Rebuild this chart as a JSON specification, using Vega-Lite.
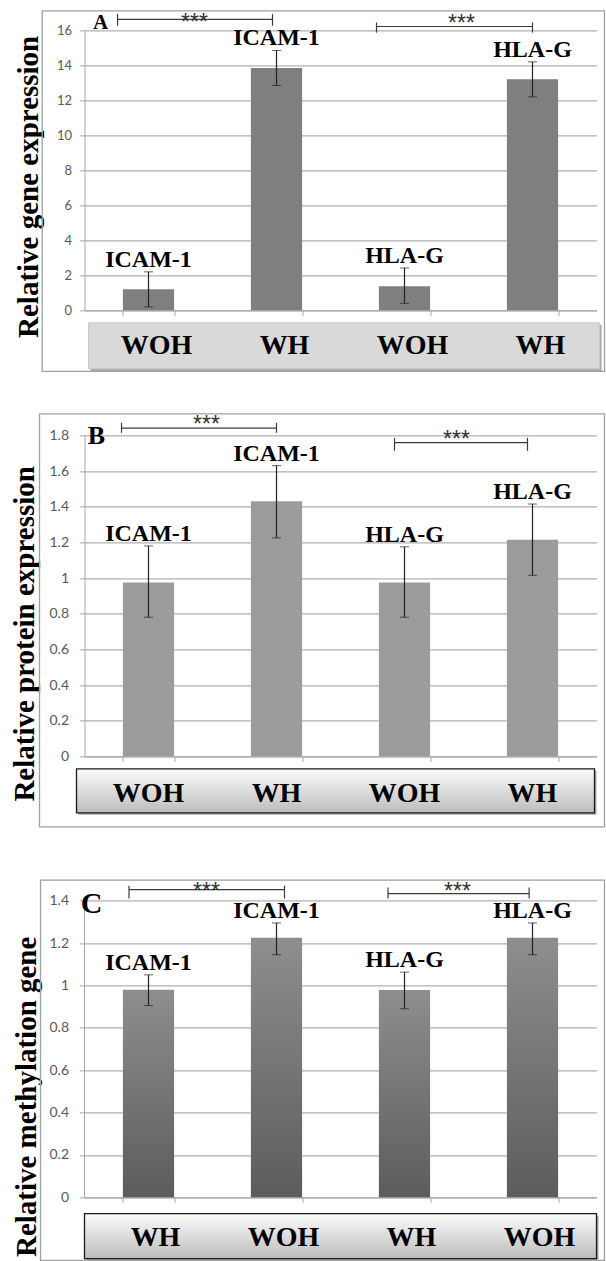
{
  "$schema": "https://vega.github.io/schema/vega-lite/v6.json",
  "padding": {"left": 9.5, "top": 9.35, "right": 0, "bottom": 0},
  "background": "white",
  "datasets": {
    "A": [
      {"bar": 1, "gene": "ICAM-1", "group": "WOH", "value": 1.2, "low": 0.2, "high": 2.2},
      {"bar": 2, "gene": "ICAM-1", "group": "WH", "value": 13.85, "low": 12.85, "high": 14.85},
      {"bar": 3, "gene": "HLA-G", "group": "WOH", "value": 1.38, "low": 0.4, "high": 2.42},
      {"bar": 4, "gene": "HLA-G", "group": "WH", "value": 13.2, "low": 12.2, "high": 14.2}
    ],
    "B": [
      {"bar": 1, "gene": "ICAM-1", "group": "WOH", "value": 0.975, "low": 0.78, "high": 1.18},
      {"bar": 2, "gene": "ICAM-1", "group": "WH", "value": 1.43, "low": 1.225, "high": 1.63},
      {"bar": 3, "gene": "HLA-G", "group": "WOH", "value": 0.975, "low": 0.78, "high": 1.175},
      {"bar": 4, "gene": "HLA-G", "group": "WH", "value": 1.215, "low": 1.015, "high": 1.415}
    ],
    "C": [
      {"bar": 1, "gene": "ICAM-1", "group": "WH", "value": 0.98, "low": 0.905, "high": 1.05},
      {"bar": 2, "gene": "ICAM-1", "group": "WOH", "value": 1.225, "low": 1.145, "high": 1.295},
      {"bar": 3, "gene": "HLA-G", "group": "WH", "value": 0.978, "low": 0.89, "high": 1.063},
      {"bar": 4, "gene": "HLA-G", "group": "WOH", "value": 1.225, "low": 1.145, "high": 1.295}
    ]
  },
  "vconcat": [
    {
      "width": 512,
      "height": 280,
      "layer": [
        {
          "data": {"values": [{"sig": "***"}]},
          "layer": [
            {"mark": {"type": "rect", "fillOpacity": 0, "stroke": "#a0a0a0", "strokeWidth": 1.3},
             "encoding": {"x": {"datum": -0.0826, "type": "quantitative", "scale": {"domain": [0, 1]}, "axis": null}, "x2": {"datum": 1.0156},
                          "y": {"datum": 17.114, "type": "quantitative", "scale": {"domain": [0, 16], "nice": false}, "axis": null}, "y2": {"datum": -3.486}}},
            {"mark": {"type": "rect", "fill": "#a8a8a8"},
             "encoding": {"x": {"datum": 0.0118, "type": "quantitative", "scale": {"domain": [0, 1]}, "axis": null}, "x2": {"datum": 1.0099},
                          "y": {"datum": -0.83, "type": "quantitative", "scale": {"domain": [0, 16], "nice": false}, "axis": null}, "y2": {"datum": -3.46}}},
            {"mark": {"type": "rect", "fill": "#d9d9d9", "stroke": "#c8c8c8", "strokeWidth": 1},
             "encoding": {"x": {"datum": 0.0078, "type": "quantitative", "scale": {"domain": [0, 1]}, "axis": null}, "x2": {"datum": 1.0059},
                          "y": {"datum": -0.714, "type": "quantitative", "scale": {"domain": [0, 16], "nice": false}, "axis": null}, "y2": {"datum": -3.343}}},
            {"mark": {"type": "rule", "color": "#3c3c3c", "strokeWidth": 1.2},
             "encoding": {"x": {"datum": 0.0645, "type": "quantitative", "scale": {"domain": [0, 1]}, "axis": null}, "x2": {"datum": 0.3672},
                          "y": {"datum": 16.63, "type": "quantitative", "scale": {"domain": [0, 16], "nice": false}, "axis": null}}},
            {"mark": {"type": "rule", "color": "#3c3c3c", "strokeWidth": 1.2},
             "encoding": {"x": {"datum": 0.0645, "type": "quantitative", "scale": {"domain": [0, 1]}, "axis": null},
                          "y": {"datum": 16.94, "type": "quantitative", "scale": {"domain": [0, 16], "nice": false}, "axis": null}, "y2": {"datum": 16.26}}},
            {"mark": {"type": "rule", "color": "#3c3c3c", "strokeWidth": 1.2},
             "encoding": {"x": {"datum": 0.3672, "type": "quantitative", "scale": {"domain": [0, 1]}, "axis": null},
                          "y": {"datum": 16.94, "type": "quantitative", "scale": {"domain": [0, 16], "nice": false}, "axis": null}, "y2": {"datum": 16.26}}},
            {"mark": {"type": "rule", "color": "#3c3c3c", "strokeWidth": 1.2},
             "encoding": {"x": {"datum": 0.5703, "type": "quantitative", "scale": {"domain": [0, 1]}, "axis": null}, "x2": {"datum": 0.875},
                          "y": {"datum": 16.22, "type": "quantitative", "scale": {"domain": [0, 16], "nice": false}, "axis": null}}},
            {"mark": {"type": "rule", "color": "#3c3c3c", "strokeWidth": 1.2},
             "encoding": {"x": {"datum": 0.5703, "type": "quantitative", "scale": {"domain": [0, 1]}, "axis": null},
                          "y": {"datum": 16.45, "type": "quantitative", "scale": {"domain": [0, 16], "nice": false}, "axis": null}, "y2": {"datum": 15.87}}},
            {"mark": {"type": "rule", "color": "#3c3c3c", "strokeWidth": 1.2},
             "encoding": {"x": {"datum": 0.875, "type": "quantitative", "scale": {"domain": [0, 1]}, "axis": null},
                          "y": {"datum": 16.45, "type": "quantitative", "scale": {"domain": [0, 16], "nice": false}, "axis": null}, "y2": {"datum": 15.87}}},
            {"mark": {"type": "text", "font": "Liberation Sans", "fontSize": 23, "baseline": "alphabetic", "color": "#333"},
             "encoding": {"x": {"datum": 0.2148, "type": "quantitative", "scale": {"domain": [0, 1]}, "axis": null},
                          "y": {"datum": 16.0, "type": "quantitative", "scale": {"domain": [0, 16], "nice": false}, "axis": null}, "text": {"field": "sig"}}},
            {"mark": {"type": "text", "font": "Liberation Sans", "fontSize": 23, "baseline": "alphabetic", "color": "#333"},
             "encoding": {"x": {"datum": 0.7363, "type": "quantitative", "scale": {"domain": [0, 1]}, "axis": null},
                          "y": {"datum": 15.943, "type": "quantitative", "scale": {"domain": [0, 16], "nice": false}, "axis": null}, "text": {"field": "sig"}}},
            {"mark": {"type": "text", "font": "Liberation Serif", "fontWeight": "bold", "fontSize": 21, "baseline": "alphabetic", "color": "#000", "text": "A"},
             "encoding": {"x": {"datum": 0.03125, "type": "quantitative", "scale": {"domain": [0, 1]}, "axis": null},
                          "y": {"datum": 16.09, "type": "quantitative", "scale": {"domain": [0, 16], "nice": false}, "axis": null}}}
          ]
        },
        {
          "data": {"name": "A"},
          "layer": [
            {"mark": {"type": "bar", "color": "#7f7f7f"},
             "encoding": {
               "x": {"field": "bar", "type": "ordinal", "title": null, "scale": {"paddingInner": 0.6, "paddingOuter": 0.3},
                     "axis": {"labels": false, "tickBand": "extent", "tickSize": 5, "grid": false}},
               "y": {"field": "value", "type": "quantitative", "scale": {"domain": [0, 16], "nice": false},
                     "axis": {"title": "Relative gene expression", "values": [0, 2, 4, 6, 8, 10, 12, 14, 16], "format": "~g", "grid": true, "labelFontSize": 13, "labelPadding": 8, "tickSize": 5, "titlePadding": 13, "titleY": 156}}
             }},
            {"mark": {"type": "errorbar", "ticks": {"size": 9, "color": "#222"}, "rule": {"color": "#222", "strokeWidth": 1.2}},
             "encoding": {"x": {"field": "bar", "type": "ordinal", "title": null},
                          "y": {"field": "low", "type": "quantitative", "scale": {"domain": [0, 16], "nice": false},
                                "axis": {"title": "Relative gene expression", "values": [0, 2, 4, 6, 8, 10, 12, 14, 16], "format": "~g", "grid": true, "labelFontSize": 13, "labelPadding": 8, "tickSize": 5, "titlePadding": 13, "titleY": 156}},
                          "y2": {"field": "high"}}},
            {"mark": {"type": "text", "font": "Liberation Serif", "fontWeight": "bold", "fontSize": 24, "baseline": "alphabetic", "dy": -5, "color": "#000"},
             "encoding": {"x": {"field": "bar", "type": "ordinal", "title": null},
                          "y": {"field": "high", "type": "quantitative", "scale": {"domain": [0, 16], "nice": false},
                                "axis": {"title": "Relative gene expression", "values": [0, 2, 4, 6, 8, 10, 12, 14, 16], "format": "~g", "grid": true, "labelFontSize": 13, "labelPadding": 8, "tickSize": 5, "titlePadding": 13, "titleY": 156}},
                          "text": {"field": "gene"}}},
            {"mark": {"type": "text", "font": "Liberation Serif", "fontWeight": "bold", "fontSize": 28, "baseline": "alphabetic", "dx": 8, "color": "#000"},
             "encoding": {"x": {"field": "bar", "type": "ordinal", "title": null},
                          "y": {"datum": -2.5, "type": "quantitative", "scale": {"domain": [0, 16], "nice": false},
                                "axis": {"title": "Relative gene expression", "values": [0, 2, 4, 6, 8, 10, 12, 14, 16], "format": "~g", "grid": true, "labelFontSize": 13, "labelPadding": 8, "tickSize": 5, "titlePadding": 13, "titleY": 156}},
                          "text": {"field": "group"}}}
          ]
        }
      ],
      "resolve": {"scale": {"x": "independent", "y": "independent"}}
    },
    {
      "width": 512,
      "height": 321,
      "layer": [
        {
          "data": {"values": [{"sig": "***"}]},
          "layer": [
            {"mark": {"type": "rect", "fillOpacity": 0, "stroke": "#a0a0a0", "strokeWidth": 1.3},
             "encoding": {"x": {"datum": -0.0879, "type": "quantitative", "scale": {"domain": [0, 1]}, "axis": null}, "x2": {"datum": 1.0156},
                          "y": {"datum": 1.9206, "type": "quantitative", "scale": {"domain": [0, 1.8], "nice": false}, "axis": null}, "y2": {"datum": -0.3953}}},
            {"mark": {"type": "rect", "fill": "#a8a8a8"},
             "encoding": {"x": {"datum": -0.0117, "type": "quantitative", "scale": {"domain": [0, 1]}, "axis": null}, "x2": {"datum": 0.9999},
                          "y": {"datum": -0.0813, "type": "quantitative", "scale": {"domain": [0, 1.8], "nice": false}, "axis": null}, "y2": {"datum": -0.328}}},
            {"mark": {"type": "rect", "stroke": "#1a1a1a", "strokeWidth": 1.3,
                      "fill": {"gradient": "linear", "x1": 0, "y1": 0, "x2": 0, "y2": 1, "stops": [{"offset": 0, "color": "#fbfbfb"}, {"offset": 1, "color": "#bdbdbd"}]}},
             "encoding": {"x": {"datum": -0.0156, "type": "quantitative", "scale": {"domain": [0, 1]}, "axis": null}, "x2": {"datum": 0.9961},
                          "y": {"datum": -0.0701, "type": "quantitative", "scale": {"domain": [0, 1.8], "nice": false}, "axis": null}, "y2": {"datum": -0.3168}}},
            {"mark": {"type": "rule", "color": "#3c3c3c", "strokeWidth": 1.2},
             "encoding": {"x": {"datum": 0.0723, "type": "quantitative", "scale": {"domain": [0, 1]}, "axis": null}, "x2": {"datum": 0.375},
                          "y": {"datum": 1.8404, "type": "quantitative", "scale": {"domain": [0, 1.8], "nice": false}, "axis": null}}},
            {"mark": {"type": "rule", "color": "#3c3c3c", "strokeWidth": 1.2},
             "encoding": {"x": {"datum": 0.0723, "type": "quantitative", "scale": {"domain": [0, 1]}, "axis": null},
                          "y": {"datum": 1.87, "type": "quantitative", "scale": {"domain": [0, 1.8], "nice": false}, "axis": null}, "y2": {"datum": 1.8142}}},
            {"mark": {"type": "rule", "color": "#3c3c3c", "strokeWidth": 1.2},
             "encoding": {"x": {"datum": 0.375, "type": "quantitative", "scale": {"domain": [0, 1]}, "axis": null},
                          "y": {"datum": 1.87, "type": "quantitative", "scale": {"domain": [0, 1.8], "nice": false}, "axis": null}, "y2": {"datum": 1.8142}}},
            {"mark": {"type": "rule", "color": "#3c3c3c", "strokeWidth": 1.2},
             "encoding": {"x": {"datum": 0.6055, "type": "quantitative", "scale": {"domain": [0, 1]}, "axis": null}, "x2": {"datum": 0.8652},
                          "y": {"datum": 1.7597, "type": "quantitative", "scale": {"domain": [0, 1.8], "nice": false}, "axis": null}}},
            {"mark": {"type": "rule", "color": "#3c3c3c", "strokeWidth": 1.2},
             "encoding": {"x": {"datum": 0.6055, "type": "quantitative", "scale": {"domain": [0, 1]}, "axis": null},
                          "y": {"datum": 1.786, "type": "quantitative", "scale": {"domain": [0, 1.8], "nice": false}, "axis": null}, "y2": {"datum": 1.7131}}},
            {"mark": {"type": "rule", "color": "#3c3c3c", "strokeWidth": 1.2},
             "encoding": {"x": {"datum": 0.8652, "type": "quantitative", "scale": {"domain": [0, 1]}, "axis": null},
                          "y": {"datum": 1.786, "type": "quantitative", "scale": {"domain": [0, 1.8], "nice": false}, "axis": null}, "y2": {"datum": 1.7131}}},
            {"mark": {"type": "text", "font": "Liberation Sans", "fontSize": 23, "baseline": "alphabetic", "color": "#333"},
             "encoding": {"x": {"datum": 0.2383, "type": "quantitative", "scale": {"domain": [0, 1]}, "axis": null},
                          "y": {"datum": 1.818, "type": "quantitative", "scale": {"domain": [0, 1.8], "nice": false}, "axis": null}, "text": {"field": "sig"}}},
            {"mark": {"type": "text", "font": "Liberation Sans", "fontSize": 23, "baseline": "alphabetic", "color": "#333"},
             "encoding": {"x": {"datum": 0.7266, "type": "quantitative", "scale": {"domain": [0, 1]}, "axis": null},
                          "y": {"datum": 1.7355, "type": "quantitative", "scale": {"domain": [0, 1.8], "nice": false}, "axis": null}, "text": {"field": "sig"}}},
            {"mark": {"type": "text", "font": "Liberation Serif", "fontWeight": "bold", "fontSize": 26, "baseline": "alphabetic", "color": "#000", "text": "B"},
             "encoding": {"x": {"datum": 0.0234, "type": "quantitative", "scale": {"domain": [0, 1]}, "axis": null},
                          "y": {"datum": 1.7524, "type": "quantitative", "scale": {"domain": [0, 1.8], "nice": false}, "axis": null}}}
          ]
        },
        {
          "data": {"name": "B"},
          "layer": [
            {"mark": {"type": "bar", "color": "#9b9b9b"},
             "encoding": {
               "x": {"field": "bar", "type": "ordinal", "title": null, "scale": {"paddingInner": 0.6, "paddingOuter": 0.3},
                     "axis": {"labels": false, "tickBand": "extent", "tickSize": 5, "grid": false}},
               "y": {"field": "value", "type": "quantitative", "scale": {"domain": [0, 1.8], "nice": false},
                     "axis": {"title": "Relative protein expression", "values": [0, 0.2, 0.4, 0.6, 0.8, 1, 1.2, 1.4, 1.6, 1.8], "format": "~g", "grid": true, "labelFontSize": 14, "labelPadding": 11, "tickSize": 5, "titlePadding": 9.5, "titleY": 198}}
             }},
            {"mark": {"type": "errorbar", "ticks": {"size": 9, "color": "#222"}, "rule": {"color": "#222", "strokeWidth": 1.2}},
             "encoding": {"x": {"field": "bar", "type": "ordinal", "title": null},
                          "y": {"field": "low", "type": "quantitative", "scale": {"domain": [0, 1.8], "nice": false},
                                "axis": {"title": "Relative protein expression", "values": [0, 0.2, 0.4, 0.6, 0.8, 1, 1.2, 1.4, 1.6, 1.8], "format": "~g", "grid": true, "labelFontSize": 14, "labelPadding": 11, "tickSize": 5, "titlePadding": 9.5, "titleY": 198}},
                          "y2": {"field": "high"}}},
            {"mark": {"type": "text", "font": "Liberation Serif", "fontWeight": "bold", "fontSize": 24, "baseline": "alphabetic", "dy": -5, "color": "#000"},
             "encoding": {"x": {"field": "bar", "type": "ordinal", "title": null},
                          "y": {"field": "high", "type": "quantitative", "scale": {"domain": [0, 1.8], "nice": false},
                                "axis": {"title": "Relative protein expression", "values": [0, 0.2, 0.4, 0.6, 0.8, 1, 1.2, 1.4, 1.6, 1.8], "format": "~g", "grid": true, "labelFontSize": 14, "labelPadding": 11, "tickSize": 5, "titlePadding": 9.5, "titleY": 198}},
                          "text": {"field": "gene"}}},
            {"mark": {"type": "text", "font": "Liberation Serif", "fontWeight": "bold", "fontSize": 28, "baseline": "alphabetic", "dx": 0, "color": "#000"},
             "encoding": {"x": {"field": "bar", "type": "ordinal", "title": null},
                          "y": {"datum": -0.2552, "type": "quantitative", "scale": {"domain": [0, 1.8], "nice": false},
                                "axis": {"title": "Relative protein expression", "values": [0, 0.2, 0.4, 0.6, 0.8, 1, 1.2, 1.4, 1.6, 1.8], "format": "~g", "grid": true, "labelFontSize": 14, "labelPadding": 11, "tickSize": 5, "titlePadding": 9.5, "titleY": 198}},
                          "text": {"field": "group"}}}
          ]
        }
      ],
      "resolve": {"scale": {"x": "independent", "y": "independent"}}
    },
    {
      "width": 512,
      "height": 316,
      "layer": [
        {
          "data": {"values": [{"sig": "***"}]},
          "layer": [
            {"mark": {"type": "rect", "fillOpacity": 0, "stroke": "#a0a0a0", "strokeWidth": 1.3},
             "encoding": {"x": {"datum": -0.0859, "type": "quantitative", "scale": {"domain": [0, 1]}, "axis": null}, "x2": {"datum": 1.0156},
                          "y": {"datum": 1.497, "type": "quantitative", "scale": {"domain": [0, 1.4913], "nice": false}, "axis": null}, "y2": {"datum": -0.298}}},
            {"mark": {"type": "rule", "color": "#a6a6a6", "strokeWidth": 1},
             "encoding": {"x": {"datum": 0, "type": "quantitative", "scale": {"domain": [0, 1]}, "axis": null},
                          "y": {"datum": 0, "type": "quantitative", "scale": {"domain": [0, 1.4913], "nice": false}, "axis": null}, "y2": {"datum": 1.4}}},
            {"mark": {"type": "rect", "fill": "#a8a8a8"},
             "encoding": {"x": {"datum": 0.004, "type": "quantitative", "scale": {"domain": [0, 1]}, "axis": null}, "x2": {"datum": 1.004},
                          "y": {"datum": -0.0863, "type": "quantitative", "scale": {"domain": [0, 1.4913], "nice": false}, "axis": null}, "y2": {"datum": -0.2987}}},
            {"mark": {"type": "rect", "stroke": "#1a1a1a", "strokeWidth": 1.3,
                      "fill": {"gradient": "linear", "x1": 0, "y1": 0, "x2": 0, "y2": 1, "stops": [{"offset": 0, "color": "#fbfbfb"}, {"offset": 1, "color": "#bdbdbd"}]}},
             "encoding": {"x": {"datum": 0, "type": "quantitative", "scale": {"domain": [0, 1]}, "axis": null}, "x2": {"datum": 1.0},
                          "y": {"datum": -0.0769, "type": "quantitative", "scale": {"domain": [0, 1.4913], "nice": false}, "axis": null}, "y2": {"datum": -0.2893}}},
            {"mark": {"type": "rule", "color": "#3c3c3c", "strokeWidth": 1.2},
             "encoding": {"x": {"datum": 0.0869, "type": "quantitative", "scale": {"domain": [0, 1]}, "axis": null}, "x2": {"datum": 0.3906},
                          "y": {"datum": 1.452, "type": "quantitative", "scale": {"domain": [0, 1.4913], "nice": false}, "axis": null}}},
            {"mark": {"type": "rule", "color": "#3c3c3c", "strokeWidth": 1.2},
             "encoding": {"x": {"datum": 0.0869, "type": "quantitative", "scale": {"domain": [0, 1]}, "axis": null},
                          "y": {"datum": 1.471, "type": "quantitative", "scale": {"domain": [0, 1.4913], "nice": false}, "axis": null}, "y2": {"datum": 1.41}}},
            {"mark": {"type": "rule", "color": "#3c3c3c", "strokeWidth": 1.2},
             "encoding": {"x": {"datum": 0.3906, "type": "quantitative", "scale": {"domain": [0, 1]}, "axis": null},
                          "y": {"datum": 1.471, "type": "quantitative", "scale": {"domain": [0, 1.4913], "nice": false}, "axis": null}, "y2": {"datum": 1.41}}},
            {"mark": {"type": "rule", "color": "#3c3c3c", "strokeWidth": 1.2},
             "encoding": {"x": {"datum": 0.5928, "type": "quantitative", "scale": {"domain": [0, 1]}, "axis": null}, "x2": {"datum": 0.8684},
                          "y": {"datum": 1.433, "type": "quantitative", "scale": {"domain": [0, 1.4913], "nice": false}, "axis": null}}},
            {"mark": {"type": "rule", "color": "#3c3c3c", "strokeWidth": 1.2},
             "encoding": {"x": {"datum": 0.5928, "type": "quantitative", "scale": {"domain": [0, 1]}, "axis": null},
                          "y": {"datum": 1.462, "type": "quantitative", "scale": {"domain": [0, 1.4913], "nice": false}, "axis": null}, "y2": {"datum": 1.41}}},
            {"mark": {"type": "rule", "color": "#3c3c3c", "strokeWidth": 1.2},
             "encoding": {"x": {"datum": 0.8684, "type": "quantitative", "scale": {"domain": [0, 1]}, "axis": null},
                          "y": {"datum": 1.462, "type": "quantitative", "scale": {"domain": [0, 1.4913], "nice": false}, "axis": null}, "y2": {"datum": 1.41}}},
            {"mark": {"type": "text", "font": "Liberation Sans", "fontSize": 23, "baseline": "alphabetic", "color": "#333"},
             "encoding": {"x": {"datum": 0.2383, "type": "quantitative", "scale": {"domain": [0, 1]}, "axis": null},
                          "y": {"datum": 1.4096, "type": "quantitative", "scale": {"domain": [0, 1.4913], "nice": false}, "axis": null}, "text": {"field": "sig"}}},
            {"mark": {"type": "text", "font": "Liberation Sans", "fontSize": 23, "baseline": "alphabetic", "color": "#333"},
             "encoding": {"x": {"datum": 0.7285, "type": "quantitative", "scale": {"domain": [0, 1]}, "axis": null},
                          "y": {"datum": 1.4096, "type": "quantitative", "scale": {"domain": [0, 1.4913], "nice": false}, "axis": null}, "text": {"field": "sig"}}},
            {"mark": {"type": "text", "font": "Liberation Serif", "fontWeight": "bold", "fontSize": 30, "baseline": "alphabetic", "color": "#000", "text": "C"},
             "encoding": {"x": {"datum": 0.0137, "type": "quantitative", "scale": {"domain": [0, 1]}, "axis": null},
                          "y": {"datum": 1.344, "type": "quantitative", "scale": {"domain": [0, 1.4913], "nice": false}, "axis": null}}}
          ]
        },
        {
          "data": {"name": "C"},
          "layer": [
            {"mark": {"type": "bar", "color": {"gradient": "linear", "x1": 0, "y1": 0, "x2": 0, "y2": 1, "stops": [{"offset": 0, "color": "#8e8e8e"}, {"offset": 1, "color": "#5c5c5c"}]}},
             "encoding": {
               "x": {"field": "bar", "type": "ordinal", "title": null, "scale": {"paddingInner": 0.6, "paddingOuter": 0.3},
                     "axis": {"labels": false, "tickBand": "extent", "tickSize": 5, "grid": false}},
               "y": {"field": "value", "type": "quantitative", "scale": {"domain": [0, 1.4913], "nice": false},
                     "axis": {"title": "Relative methylation gene", "values": [0, 0.2, 0.4, 0.6, 0.8, 1, 1.2, 1.4], "format": "~g", "grid": true, "domain": false, "labelFontSize": 14, "labelPadding": 11, "tickSize": 5, "titlePadding": 7.5, "titleY": 215}}
             }},
            {"mark": {"type": "errorbar", "ticks": {"size": 9, "color": "#222"}, "rule": {"color": "#222", "strokeWidth": 1.2}},
             "encoding": {"x": {"field": "bar", "type": "ordinal", "title": null},
                          "y": {"field": "low", "type": "quantitative", "scale": {"domain": [0, 1.4913], "nice": false},
                                "axis": {"title": "Relative methylation gene", "values": [0, 0.2, 0.4, 0.6, 0.8, 1, 1.2, 1.4], "format": "~g", "grid": true, "domain": false, "labelFontSize": 14, "labelPadding": 11, "tickSize": 5, "titlePadding": 7.5, "titleY": 215}},
                          "y2": {"field": "high"}}},
            {"mark": {"type": "text", "font": "Liberation Serif", "fontWeight": "bold", "fontSize": 24, "baseline": "alphabetic", "dy": -5, "color": "#000"},
             "encoding": {"x": {"field": "bar", "type": "ordinal", "title": null},
                          "y": {"field": "high", "type": "quantitative", "scale": {"domain": [0, 1.4913], "nice": false},
                                "axis": {"title": "Relative methylation gene", "values": [0, 0.2, 0.4, 0.6, 0.8, 1, 1.2, 1.4], "format": "~g", "grid": true, "domain": false, "labelFontSize": 14, "labelPadding": 11, "tickSize": 5, "titlePadding": 7.5, "titleY": 215}},
                          "text": {"field": "gene"}}},
            {"mark": {"type": "text", "font": "Liberation Serif", "fontWeight": "bold", "fontSize": 28, "baseline": "alphabetic", "dx": 7, "color": "#000"},
             "encoding": {"x": {"field": "bar", "type": "ordinal", "title": null},
                          "y": {"datum": -0.228, "type": "quantitative", "scale": {"domain": [0, 1.4913], "nice": false},
                                "axis": {"title": "Relative methylation gene", "values": [0, 0.2, 0.4, 0.6, 0.8, 1, 1.2, 1.4], "format": "~g", "grid": true, "domain": false, "labelFontSize": 14, "labelPadding": 11, "tickSize": 5, "titlePadding": 7.5, "titleY": 215}},
                          "text": {"field": "group"}}}
          ]
        }
      ],
      "resolve": {"scale": {"x": "independent", "y": "independent"}}
    }
  ],
  "spacing": 125,
  "bounds": "flush",
  "config": {
    "view": {"stroke": null},
    "axis": {
      "labelFont": "Lato", "labelColor": "#595959",
      "gridColor": "#b0b0b0", "gridWidth": 1.3,
      "domainColor": "#a6a6a6", "tickColor": "#a6a6a6",
      "titleFont": "Liberation Serif", "titleFontSize": 29, "titleFontWeight": "bold", "titleColor": "#000"
    }
  }
}
